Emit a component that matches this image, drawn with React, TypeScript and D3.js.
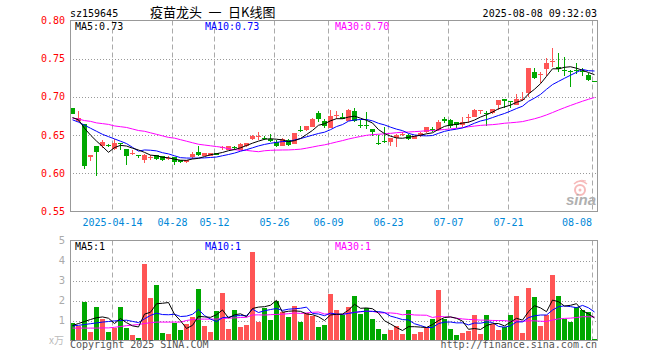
import React from 'react';
import * as d3 from 'd3';

// trading days (MM-DD), 2025
const days = [
  '04-02', '04-03', '04-07', '04-08', '04-09', '04-10', '04-11', '04-14', '04-15', '04-16',
  '04-17', '04-18', '04-21', '04-22', '04-23', '04-24', '04-25', '04-28', '04-29', '04-30',
  '05-06', '05-07', '05-08', '05-09', '05-12', '05-13', '05-14', '05-15', '05-16', '05-19',
  '05-20', '05-21', '05-22', '05-23', '05-26', '05-27', '05-28', '05-29', '05-30', '06-03',
  '06-04', '06-05', '06-06', '06-09', '06-10', '06-11', '06-12', '06-13', '06-16', '06-17',
  '06-18', '06-19', '06-20', '06-23', '06-24', '06-25', '06-26', '06-27', '06-30', '07-01',
  '07-02', '07-03', '07-04', '07-07', '07-08', '07-09', '07-10', '07-11', '07-14', '07-15',
  '07-16', '07-17', '07-18', '07-21', '07-22', '07-23', '07-24', '07-25', '07-28', '07-29',
  '07-30', '07-31', '08-01', '08-04', '08-05', '08-06', '08-07', '08-08',
];

const opens = [
  0.685, 0.668, 0.664, 0.621, 0.636, 0.636, 0.6376, 0.632, 0.6392, 0.632,
  0.6265, 0.624, 0.617, 0.6205, 0.624, 0.623, 0.6195, 0.6215, 0.617, 0.6144,
  0.6214, 0.6284, 0.6223, 0.6232, 0.6267, 0.633, 0.631, 0.6345, 0.631, 0.6354,
  0.645, 0.649, 0.6465, 0.6455, 0.6407, 0.6363, 0.6442, 0.6385, 0.6565, 0.6573,
  0.6607, 0.6783, 0.6682, 0.6595, 0.676, 0.674, 0.6682, 0.6813, 0.663, 0.663,
  0.658, 0.6395, 0.6425, 0.6407, 0.6464, 0.6514, 0.6507, 0.645, 0.6485, 0.6542,
  0.6585, 0.6564, 0.6717, 0.670, 0.6673, 0.6634, 0.6732, 0.674, 0.6818, 0.6785,
  0.6783, 0.6892, 0.6975, 0.6945, 0.690, 0.697, 0.7045, 0.733, 0.730, 0.736,
  0.7465, 0.7395, 0.7348, 0.7342, 0.7353, 0.7342, 0.7281, 0.7205,
];
const highs = [
  0.685, 0.682, 0.664, 0.6245, 0.636, 0.643, 0.638, 0.645, 0.640, 0.632,
  0.630, 0.624, 0.625, 0.624, 0.624, 0.623, 0.622, 0.6215, 0.617, 0.618,
  0.6284, 0.6354, 0.627, 0.627, 0.627, 0.636, 0.636, 0.636, 0.640, 0.6395,
  0.650, 0.6546, 0.6485, 0.652, 0.643, 0.646, 0.6455, 0.653, 0.6625, 0.6625,
  0.672, 0.6813, 0.6713, 0.6835, 0.6813, 0.6783, 0.684, 0.6853, 0.670, 0.680,
  0.658, 0.6507, 0.661, 0.646, 0.651, 0.6538, 0.652, 0.649, 0.6535, 0.661,
  0.661, 0.6704, 0.6735, 0.6713, 0.6675, 0.674, 0.677, 0.6848, 0.6822, 0.6813,
  0.6848, 0.6953, 0.6975, 0.6945, 0.7032, 0.7063, 0.7373, 0.7373, 0.7325, 0.7504,
  0.7636, 0.757, 0.7526, 0.7355, 0.744, 0.738, 0.7316, 0.7205,
];
const lows = [
  0.677, 0.667, 0.606, 0.616, 0.597, 0.633, 0.635, 0.630, 0.631, 0.611,
  0.624, 0.620, 0.614, 0.617, 0.617, 0.616, 0.618, 0.611, 0.614, 0.614,
  0.6192, 0.6223, 0.622, 0.623, 0.624, 0.631, 0.631, 0.630, 0.631, 0.635,
  0.644, 0.644, 0.644, 0.641, 0.6345, 0.6355, 0.6363, 0.638, 0.654, 0.655,
  0.660, 0.667, 0.6595, 0.6595, 0.6713, 0.6705, 0.668, 0.667, 0.6595, 0.658,
  0.6485, 0.6376, 0.640, 0.6363, 0.634, 0.6485, 0.644, 0.6445, 0.648, 0.653,
  0.6538, 0.656, 0.666, 0.659, 0.659, 0.6608, 0.6664, 0.674, 0.677, 0.6616,
  0.678, 0.6835, 0.6857, 0.6857, 0.690, 0.694, 0.700, 0.723, 0.7185, 0.728,
  0.7395, 0.7325, 0.728, 0.7133, 0.7295, 0.728, 0.7203, 0.7203,
];
const closes = [
  0.677, 0.673, 0.609, 0.6245, 0.6275, 0.641, 0.6354, 0.640, 0.639, 0.623,
  0.627, 0.6235, 0.6245, 0.621, 0.619, 0.617, 0.620, 0.6153, 0.6144, 0.618,
  0.6258, 0.6245, 0.6267, 0.6267, 0.6245, 0.634, 0.636, 0.634, 0.6385, 0.6393,
  0.6494, 0.6494, 0.646, 0.642, 0.6363, 0.645, 0.6376, 0.6529, 0.656, 0.6625,
  0.6717, 0.6713, 0.6625, 0.6756, 0.6765, 0.6713, 0.6822, 0.6682, 0.6625, 0.6625,
  0.6538, 0.639, 0.642, 0.646, 0.6507, 0.6516, 0.6455, 0.6485, 0.653, 0.660,
  0.658, 0.6678, 0.6682, 0.6625, 0.663, 0.6673, 0.6735, 0.6822, 0.6822, 0.678,
  0.6848, 0.6953, 0.694, 0.694, 0.6966, 0.6975, 0.7373, 0.7246, 0.7303, 0.7448,
  0.747, 0.7369, 0.7347, 0.734, 0.735, 0.734, 0.722, 0.7203,
];
// volume, in units of the left axis
const volumes = [
  0.88, 0.75, 1.95, 0.43, 1.68, 1.08, 0.43, 0.62, 1.68, 0.65,
  0.28, 0.15, 3.83, 2.15, 2.78, 0.40, 0.33, 0.88, 0.55, 0.85,
  1.18, 2.58, 0.75, 0.43, 1.50, 2.38, 0.58, 1.53, 0.68, 0.78,
  4.43, 0.93, 1.63, 1.05, 2.00, 1.45, 1.18, 1.73, 0.93, 1.37,
  1.23, 0.68, 0.78, 2.33, 1.53, 1.28, 1.68, 2.23, 1.33, 1.62,
  1.08, 0.58, 0.33, 0.53, 0.73, 0.33, 1.53, 0.33, 0.43, 0.63,
  1.08, 2.53, 1.08, 0.58, 0.28, 0.38, 0.48, 1.28, 0.33, 1.28,
  0.83, 0.53, 0.68, 1.28, 2.23, 0.38, 2.63, 2.18, 0.73, 1.28,
  3.28, 2.23, 1.08, 0.93, 1.68, 1.53, 1.43, 0.08,
];

// MA values before a full window exists
const priceMa5Head = [0.673, 0.670, 0.659, 0.650];
const priceMa10Head = [0.670, 0.667, 0.663, 0.659, 0.655, 0.651, 0.648, 0.645, 0.642];
const priceMa30Head = [
  0.672, 0.671, 0.669, 0.668, 0.666, 0.665, 0.664, 0.662, 0.661, 0.660,
  0.658, 0.656, 0.655, 0.653, 0.651, 0.649, 0.647, 0.646, 0.644, 0.642,
  0.640, 0.638, 0.637, 0.636, 0.635, 0.634, 0.632, 0.631, 0.630,
];
const volMa5Head = [0.75, 0.85, 0.95, 1.05];
const volMa10Head = [0.73, 0.76, 0.80, 0.84, 0.88, 0.92, 0.95, 0.98, 1.0];
const volMa30Head = [
  0.62, 0.62, 0.62, 0.62, 0.62, 0.63, 0.63, 0.66, 0.70, 0.74,
  0.77, 0.80, 0.85, 0.89, 0.92, 0.92, 0.92, 0.92, 0.92, 1.0,
  1.05, 1.07, 1.07, 1.07, 1.07, 1.10, 1.12, 1.13, 1.15,
];

const tickDays = ['04-14', '04-28', '05-12', '05-26', '06-09', '06-23', '07-07', '07-21', '08-08'];
const priceTicks = [0.55, 0.6, 0.65, 0.7, 0.75, 0.8];
const volTicks = [1, 2, 3, 4, 5];

const RED = '#ff5555';
const GREEN = '#00a800';
const MONO = '"DejaVu Sans Mono", "Liberation Mono", monospace';

function movingAvg(values: number[], n: number, head: number[]) {
  return values.map((v, i) => (i < n - 1 ? head[i] : (d3.mean(values.slice(i - n + 1, i + 1)) as number)));
}

export default function App() {
  const left = 70;
  const right = 598;
  const x = d3.scaleBand<number>()
    .domain(d3.range(days.length))
    .range([left - 0.5, right - 0.5])
    .paddingInner(1 / 6)
    .paddingOuter(1 / 12);
  const bw = x.bandwidth();
  const cx = (i: number) => (x(i) as number) + bw / 2;

  const yP = d3.scaleLinear().domain([0.55, 0.8]).range([211.5, 20.5]);
  const yV = d3.scaleLinear().domain([0, 5]).range([340.5, 240.5]);

  const ma5 = movingAvg(closes, 5, priceMa5Head);
  const ma10 = movingAvg(closes, 10, priceMa10Head);
  const ma30 = movingAvg(closes, 30, priceMa30Head);
  const vma5 = movingAvg(volumes, 5, volMa5Head);
  const vma10 = movingAvg(volumes, 10, volMa10Head);
  const vma30 = movingAvg(volumes, 30, volMa30Head);

  const priceLine = d3.line<number>().x((d, i) => cx(i)).y(d => yP(d));
  const volLine = d3.line<number>().x((d, i) => cx(i)).y(d => yV(d));

  const tickIdx = tickDays.map(t => days.indexOf(t));
  const last = days.length - 1;

  const grid = (top: number, bottom: number) => tickIdx.map(i => (
    <line key={'g' + i} x1={(x(i) as number) + 0.5} x2={(x(i) as number) + 0.5} y1={top} y2={bottom}
      stroke="#aaa" strokeDasharray="5,3" />
  ));

  return (
    <div style={{ position: 'fixed', left: 0, top: 0, background: '#fff' }}>
      <svg width={660} height={360} style={{ display: 'block' }}>
        <rect width={660} height={360} fill="#fff" />

        {/* header */}
        <text x={70} y={17} fontFamily={MONO} fontSize={10} fill="#000">sz159645</text>
        <text x={150} y={17} fontFamily={'"Noto Sans CJK SC", sans-serif'} fontSize={13} fill="#000"
          style={{ whiteSpace: 'pre' }}>{'疫苗龙头\u2002一\u2002日K线图'}</text>
        <text x={597} y={17} textAnchor="end" fontFamily={MONO} fontSize={10} fill="#000">2025-08-08 09:32:03</text>

        {/* price panel grid */}
        {priceTicks.slice(1, -1).map(t => (
          <line key={'pt' + t} x1={left} x2={right} y1={Math.round(yP(t)) + 0.5} y2={Math.round(yP(t)) + 0.5}
            stroke="#999" strokeDasharray="1,2" />
        ))}
        {grid(20.5, 211.5)}
        {priceTicks.map(t => (
          <text key={'pl' + t} x={65} y={yP(t)} dy="0.35em" textAnchor="end" fontFamily={MONO} fontSize={10}
            fill="#f00">{t.toFixed(2)}</text>
        ))}

        {/* watermark */}
        <g opacity={0.55}>
          <circle cx={580} cy={190} r={5} fill="none" stroke="#f08080" strokeWidth={2} />
          <circle cx={580} cy={190} r={1.5} fill="#f08080" />
          <path d="M574,184 Q580,178 587,184" fill="none" stroke="#f08080" strokeWidth={1.5} />
          <path d="M577,182 Q582,179 586,181" fill="none" stroke="#f08080" strokeWidth={1} />
        </g>
        <text x={566} y={205} fontFamily={'"Liberation Sans", Arial, sans-serif'} fontSize={15} fontWeight="bold"
          fontStyle="italic" fill="#b0b0b0">sina</text>

        {/* candles */}
        <g shapeRendering="crispEdges">
          {days.map((d, i) => {
            const up = closes[i] >= opens[i];
            const col = up ? RED : GREEN;
            const top = yP(Math.max(opens[i], closes[i]));
            const h = Math.max(1, Math.abs(yP(opens[i]) - yP(closes[i])));
            return (
              <g key={'c' + i}>
                <line x1={cx(i)} x2={cx(i)} y1={yP(highs[i])} y2={yP(lows[i])} stroke={col} />
                <rect x={x(i)} y={top} width={bw} height={h} fill={col} />
              </g>
            );
          })}
        </g>
        <g fill="none" strokeWidth={1}>
          <path d={priceLine(ma30) || ''} stroke="#ff00ff" />
          <path d={priceLine(ma10) || ''} stroke="#0000ff" />
          <path d={priceLine(ma5) || ''} stroke="#000" />
        </g>

        {/* price panel frame */}
        <rect x={70.5} y={20.5} width={527} height={191} fill="none" stroke="#999" />

        <text x={75} y={29.5} fontFamily={MONO} fontSize={10} fill="#000">MA5:{ma5[last].toFixed(2)}</text>
        <text x={205} y={29.5} fontFamily={MONO} fontSize={10} fill="#0000ff">MA10:{ma10[last].toFixed(2)}</text>
        <text x={335} y={29.5} fontFamily={MONO} fontSize={10} fill="#ff00ff">MA30:{ma30[last].toFixed(2)}</text>

        {/* date axis */}
        {tickIdx.map((i, n) => {
          const label = n === 0 ? '2025-' + days[i] : days[i];
          const w = label.length * 6.02;
          const c = Math.min((x(i) as number) + 0.5, right - 6 - w / 2);
          return (
            <text key={'d' + i} x={c} y={225.5} textAnchor="middle" fontFamily={MONO} fontSize={10}
              fill="#0088d8">{label}</text>
          );
        })}

        {/* volume panel */}
        {volTicks.slice(0, -1).map(t => (
          <line key={'vt' + t} x1={left} x2={right} y1={Math.round(yV(t)) + 0.5} y2={Math.round(yV(t)) + 0.5}
            stroke="#999" strokeDasharray="1,2" />
        ))}
        {grid(240.5, 340.5)}
        {volTicks.map(t => (
          <text key={'vl' + t} x={65} y={yV(t)} dy="0.35em" textAnchor="end"
            fontFamily={'"DejaVu Sans", sans-serif'} fontSize={10} fill="#aaa">{t}</text>
        ))}
        <text x={49} y={344} fontFamily={'"Noto Sans CJK SC", sans-serif'} fontSize={10} fill="#bbb">x万</text>

        <g shapeRendering="crispEdges">
          {volumes.map((v, i) => (
            <rect key={'v' + i} x={x(i)} y={yV(v)} width={bw} height={yV(0) - yV(v)}
              fill={closes[i] >= opens[i] ? RED : GREEN} />
          ))}
        </g>
        <g fill="none" strokeWidth={1}>
          <path d={volLine(vma30) || ''} stroke="#ff00ff" />
          <path d={volLine(vma10) || ''} stroke="#0000ff" />
          <path d={volLine(vma5) || ''} stroke="#000" />
        </g>
        <rect x={70.5} y={240.5} width={527} height={100} fill="none" stroke="#999" />

        <text x={75} y={250} fontFamily={MONO} fontSize={10} fill="#000">MA5:{Math.round(vma5[last])}</text>
        <text x={205} y={250} fontFamily={MONO} fontSize={10} fill="#0000ff">MA10:{Math.round(vma10[last])}</text>
        <text x={335} y={250} fontFamily={MONO} fontSize={10} fill="#ff00ff">MA30:{Math.round(vma30[last])}</text>

        {/* footer */}
        <text x={70} y={348} fontFamily={MONO} fontSize={10} fill="#555">Copyright 2025 SINA.COM</text>
        <text x={597} y={348} textAnchor="end" fontFamily={MONO} fontSize={10} fill="#555">http://finance.sina.com.cn</text>
      </svg>
    </div>
  );
}
